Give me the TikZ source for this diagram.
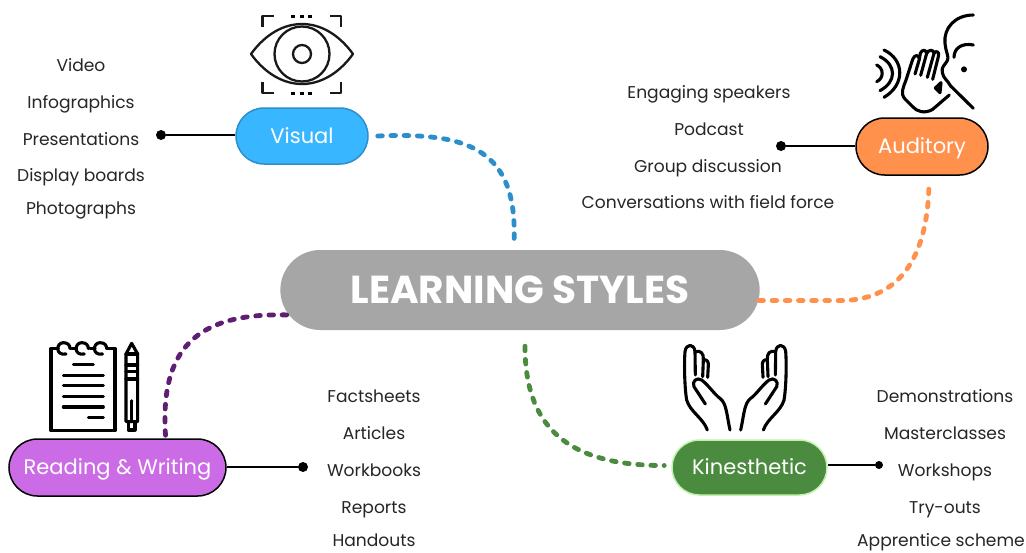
\documentclass[tikz,border=0pt]{standalone}
\usepackage{fontspec}
\setmainfont{Poppins}
\usetikzlibrary{calc,shapes.misc}
\definecolor{cblue}{HTML}{38B6FF}
\definecolor{cblueb}{HTML}{2C8FCB}
\definecolor{corange}{HTML}{FF914D}
\definecolor{cpurple}{HTML}{CB6CE6}
\definecolor{cdpurple}{HTML}{5E1F73}
\definecolor{cgreen}{HTML}{4A8B3F}
\definecolor{clgreen}{HTML}{C1F1AE}
\definecolor{cgrey}{HTML}{A6A6A6}
\tikzset{
  stylebox/.style={rounded rectangle,minimum height=#1,inner xsep=0pt,text=white,text height=18pt,text depth=4pt,font=\fontsize{21}{24}\selectfont},
  central/.style={rounded rectangle,fill=cgrey,minimum width=486pt,minimum height=80pt,text=white,text height=26pt,text depth=0pt,font=\fontsize{39}{44}\selectfont\bfseries},
  item/.style={font=\fontsize{17.1}{20}\selectfont,text=black!85,inner sep=0pt,text height=16.5pt,text depth=3.5pt},
  leader/.style={draw=black,line width=1.3pt},
  enddot/.style={circle,fill=black,minimum size=10pt,inner sep=0pt},
  link/.style={line width=4.8pt,dash pattern=on 4.6pt off 8.6pt,line cap=round},
  icon/.style={line width=2.3pt,line cap=round,line join=round,draw=black!90},
  iconthick/.style={line width=3.1pt,line cap=round,line join=round,draw=black},
}
\begin{document}
\begin{tikzpicture}[x=1pt,y=-1pt]
\useasboundingbox (0,0) rectangle (1026,552);
\fill[white] (0,0) rectangle (1026,552);
% nodes
\node[central] (core) at (520,290) {LEARNING STYLES};
\node[stylebox=56pt,minimum width=132pt,fill=cblue,draw=cblueb,line width=1.5pt] (visual) at (302,136) {Visual};
\node[stylebox=57pt,minimum width=132pt,fill=corange,draw=black,line width=1.5pt] (auditory) at (922,146.5) {Auditory};
\node[stylebox=57pt,minimum width=217pt,fill=cpurple,draw=black,line width=1.5pt] (reading) at (117.5,467.5) {Reading \& Writing};
\node[stylebox=55pt,minimum width=155pt,fill=cgreen,draw=clgreen,line width=1.5pt] (kin) at (749.5,467.5) {Kinesthetic};
% leader dots
\node[enddot] (dv) at (161,135) {};
\node[enddot] (da) at (781,146) {};
\node[enddot] (dr) at (303,467) {};
\node[enddot,minimum size=8pt] (dk) at (879,465) {};
\draw[leader] (visual.west |- dv) -- (dv);
\draw[leader] (auditory.west |- da) -- (da);
\draw[leader] (reading.east |- dr) -- (dr);
\draw[leader] (kin.east |- dk) -- (dk);
% links
\draw[link,draw=cblueb] ($(visual.east)+(9,0)$) .. controls (470,132) and (518,150) .. ($(core.north)+(-6,-7)$);
\draw[link,draw=corange] ($(core.east)+(-1,10.5)$) -- (835,300.5) .. controls (905,303) and (928,250) .. ($(auditory.south)+(7,7)$);
\draw[link,draw=cdpurple] ($(reading.north)+(48,-3)$) .. controls (160,350) and (195,312) .. ($(core.west)+(9,25)$);
\draw[link,draw=cgreen] ($(core.south)+(5,16)$) .. controls (525,420) and (560,466) .. ($(kin.west)+(-7,-2)$);
% lists
\foreach \t/\x/\y/\n in {Video/81/65/a1,Infographics/81/102/a2,Presentations/81/139/a3,Display boards/81/175/a4,Photographs/81/208/a5,
 Engaging speakers/709/92/b1,Podcast/709/129/b2,Group discussion/708/166/b3,Conversations with field force/708/202/b4,
 Factsheets/374/396/c1,Articles/374/433/c2,Workbooks/374/470/c3,Reports/374/507/c4,Handouts/374/540/c5,
 Demonstrations/945/396/d1,Masterclasses/945/433/d2,Workshops/945/470/d3,Try-outs/945/507/d4,Apprentice scheme/941/540/d5}
 \node[item] (\n) at (\x,\y) {\t};
% eye icon
\begin{scope}[icon]
\draw (251,54) .. controls (280,14) and (324,14) .. (353,54) .. controls (324,94) and (280,94) .. cycle;
\draw (302,54) circle[radius=27.5];
\draw (302,54) circle[radius=9];
\draw[line cap=butt,line width=2.6pt] (274,16) -- (262.5,16) -- (262.5,27);
\draw[line cap=butt,line width=2.6pt] (330,16) -- (341,16) -- (341,27);
\draw[line cap=butt,line width=2.6pt] (274,93) -- (262.5,93) -- (262.5,82);
\draw[line cap=butt,line width=2.6pt] (330,93) -- (341,93) -- (341,82);
\foreach \px in {293,302,310}{\fill (\px-2,14.5) rectangle (\px+2,17.5); \fill (\px-2,91.5) rectangle (\px+2,94.5);}
\end{scope}
% ear icon
\begin{scope}[shift={(860,0)},scale=1/3,iconthick]
\draw (340,45) .. controls (285,45) and (250,85) .. (255,130) .. controls (258,160) and (268,170) .. (262,182) .. controls (255,195) and (243,200) .. (247,218) .. controls (250,235) and (262,240) .. (272,258) -- (340,325);
\draw (340,135) .. controls (305,128) and (282,145) .. (282,172);
\fill (312,208) circle[radius=9];
\draw (268,285) -- (218,328) .. controls (195,342) and (170,335) .. (158,320) -- (135,297) .. controls (120,280) and (130,262) .. (138,240) -- (158,178) .. controls (163,163) and (178,163) .. (178,178) -- (165,222);
\draw (178,178) -- (181,160) .. controls (186,148) and (198,148) .. (200,160) -- (182,226);
\draw (200,160) .. controls (205,148) and (222,148) .. (222,160) -- (202,232);
\draw (222,160) .. controls (228,150) and (240,155) .. (235,170) -- (218,238);
\draw[fill=black] (243,248) -- (226,264) -- (240,278) -- cycle;
\draw (72,150) .. controls (135,180) and (135,255) .. (72,292);
\draw (60,170) .. controls (110,195) and (110,245) .. (60,272);
\draw (50,195) .. controls (72,205) and (72,235) .. (50,245);
\end{scope}
% notebook icon
\begin{scope}[shift={(30,330)},scale=1/3,iconthick]
\draw (85,55) -- (63,55) -- (63,302) -- (255,302) -- (255,55) -- (232,55);
\draw (125,55) -- (140,55) (180,55) -- (195,55);
\foreach \s in {100,155,210}{\draw (\s+8,72) .. controls (\s-25,78) and (\s-22,38) .. (\s,38) .. controls (\s+14,38) and (\s+20,46) .. (\s+20,56);}
\draw (130,104) -- (190,104);
\foreach \ly in {136,167,199,231}{\draw (100,\ly) -- (220,\ly);}
\draw (175,262) -- (220,262);
\draw (288,72) -- (305,40) -- (323,72) -- (323,275) -- (288,275) -- cycle;
\draw (288,72) -- (323,72) (288,105) -- (323,105) (288,125) -- (323,125) (288,147) -- (323,147);
\draw (305,213) -- (305,275);
\fill (305,213) circle[radius=5];
\draw (295,275) -- (295,300) -- (315,300) -- (315,275);
\end{scope}
% hands icon
\foreach \sx/\ox in {1/670,-1/800.7}{
\begin{scope}[shift={(\ox,335)},xscale=\sx/3,yscale=1/3,iconthick]
\draw (112,285) .. controls (100,250) and (60,230) .. (50,195) .. controls (44,160) and (42,90) .. (45,50) .. controls (48,25) and (73,25) .. (75,50) -- (76,120);
\draw (76,50) .. controls (92,45) and (102,55) .. (100,75) -- (98,125);
\draw (100,75) .. controls (110,72) and (116,80) .. (115,90) -- (113,127);
\draw (106,207) -- (72,155) .. controls (65,140) and (80,125) .. (95,135) .. controls (115,150) and (135,180) .. (150,190) .. controls (170,205) and (170,240) .. (180,285);
\end{scope}}
\end{tikzpicture}
\end{document}
